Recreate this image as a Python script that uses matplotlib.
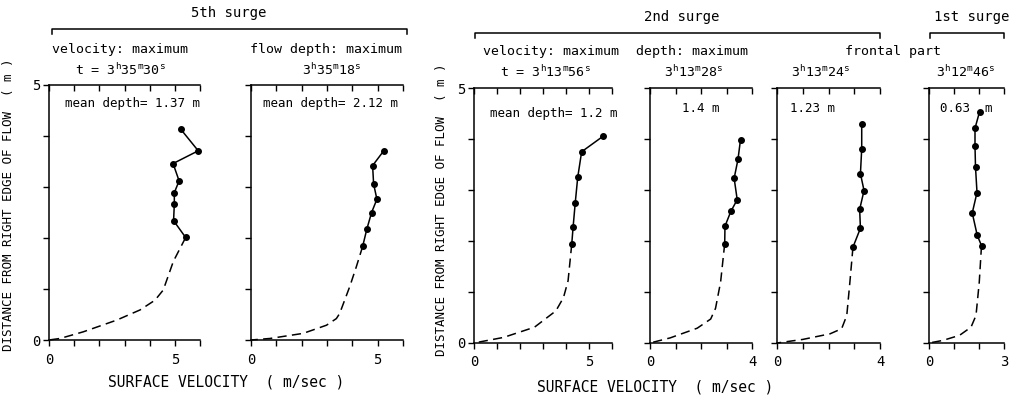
import matplotlib
matplotlib.use("Agg")
import matplotlib.pyplot as plt
from matplotlib.lines import Line2D

plt.rcParams['font.family'] = ['DejaVu Sans Mono', 'DejaVu Sans']
plt.rcParams['mathtext.fontset'] = 'custom'
plt.rcParams['mathtext.rm'] = 'DejaVu Sans Mono'
plt.rcParams['mathtext.it'] = 'DejaVu Sans Mono'

W, H = 1013, 400

# measured points (solid) and estimated edge profile (dashed), velocity m/sec vs distance m
p1_solid_v = [5.24, 5.93, 4.93, 5.17, 4.98, 4.98, 4.95, 5.43]
p1_solid_d = [4.13, 3.71, 3.46, 3.12, 2.89, 2.67, 2.34, 2.01]
p1_dash_v = [5.43, 4.94, 4.54, 4.21, 3.62, 2.69, 1.36, 0.44, 0.0]
p1_dash_d = [2.01, 1.54, 0.98, 0.78, 0.59, 0.39, 0.16, 0.03, 0.0]

p2_solid_v = [5.24, 4.80, 4.84, 4.97, 4.76, 4.57, 4.41]
p2_solid_d = [3.71, 3.42, 3.06, 2.76, 2.50, 2.17, 1.84]
p2_dash_v = [4.41, 4.16, 3.90, 3.50, 3.37, 2.98, 2.06, 0.75, 0.0]
p2_dash_d = [1.84, 1.44, 1.05, 0.52, 0.42, 0.29, 0.13, 0.03, 0.0]

p3_solid_v = [5.63, 4.68, 4.51, 4.40, 4.31, 4.25]
p3_solid_d = [4.06, 3.75, 3.25, 2.74, 2.28, 1.94]
p3_dash_v = [4.25, 4.09, 3.89, 3.56, 2.63, 1.29, 0.0]
p3_dash_d = [1.94, 1.22, 0.89, 0.63, 0.31, 0.11, 0.0]

p4_solid_v = [3.55, 3.45, 3.30, 3.42, 3.17, 2.94, 2.93]
p4_solid_d = [3.99, 3.60, 3.23, 2.81, 2.58, 2.29, 1.95]
p4_dash_v = [2.93, 2.77, 2.57, 2.38, 1.85, 0.79, 0.0]
p4_dash_d = [1.95, 1.20, 0.68, 0.47, 0.29, 0.10, 0.0]

p5_solid_v = [3.29, 3.29, 3.24, 3.38, 3.21, 3.24, 2.95]
p5_solid_d = [4.30, 3.81, 3.32, 2.99, 2.62, 2.25, 1.88]
p5_dash_v = [2.95, 2.83, 2.71, 2.51, 2.06, 1.00, 0.0]
p5_dash_d = [1.88, 1.19, 0.54, 0.28, 0.18, 0.07, 0.0]

p6_solid_v = [2.02, 1.84, 1.84, 1.86, 1.92, 1.73, 1.93, 2.10]
p6_solid_d = [4.53, 4.21, 3.86, 3.45, 2.95, 2.55, 2.11, 1.91]
p6_dash_v = [2.10, 2.01, 1.88, 1.68, 1.22, 0.55, 0.0]
p6_dash_d = [1.91, 1.19, 0.54, 0.31, 0.15, 0.05, 0.0]

xmax = [6, 6, 6, 4, 4, 3]
xlabel_at = [5, 5, 5, 4, 4, 3]
depth_text = ["mean depth= 1.37 m", "mean depth= 2.12 m", "mean depth= 1.2 m",
              "1.4 m", "1.23 m", "0.63  m"]

panels = [
    (p1_solid_v, p1_solid_d, p1_dash_v, p1_dash_d),
    (p2_solid_v, p2_solid_d, p2_dash_v, p2_dash_d),
    (p3_solid_v, p3_solid_d, p3_dash_v, p3_dash_d),
    (p4_solid_v, p4_solid_d, p4_dash_v, p4_dash_d),
    (p5_solid_v, p5_solid_d, p5_dash_v, p5_dash_d),
    (p6_solid_v, p6_solid_d, p6_dash_v, p6_dash_d),
]

# pixel boxes (x0, x1, ytop, ybottom)
boxes = [(49, 200, 85, 340), (251, 403, 85, 340), (474, 612, 88, 343),
         (650, 752, 88, 343), (777, 880, 88, 343), (929, 1004, 88, 343)]
ylabels_on = [True, False, True, False, False, False]
text_pos = [(65, 103), (263, 103), (490, 113), (682, 108), (790, 108), (940, 108)]


def fx(x):
    return x / W


def fy(y):
    return 1 - y / H


fig = plt.figure(figsize=(W / 100, H / 100), dpi=100)

for i, (sv, sd, dv, dd) in enumerate(panels):
    x0, x1, yt, yb = boxes[i]
    ax = fig.add_axes([fx(x0), fy(yb), (x1 - x0) / W, (yb - yt) / H])
    ax.plot(dv, dd, color='black', lw=1.1, dashes=(6, 3.5), clip_on=False)
    ax.plot(sv, sd, color='black', lw=1.1, marker='o', ms=4, clip_on=False)
    ax.set_xlim(0, xmax[i])
    ax.set_ylim(0, 5)
    xt = list(range(xmax[i] + 1))
    ax.set_xticks(xt)
    ax.set_xticklabels([str(t) if t in (0, xlabel_at[i]) else '' for t in xt])
    ax.set_yticks(range(6))
    if ylabels_on[i]:
        ax.set_yticklabels(['0', '', '', '', '', '5'])
    else:
        ax.set_yticklabels([])
    ax.spines['right'].set_visible(False)
    ax.spines['top'].set_visible(False)
    ax.spines['left'].set_linewidth(1.1)
    ax.spines['bottom'].set_linewidth(1.1)
    ax.tick_params(direction='out', length=4, width=1, labelsize=10, pad=5)
    ax.tick_params(axis='y', pad=2)
    sec = ax.secondary_xaxis('top')
    sec.set_xticks(xt)
    sec.set_xticklabels([])
    sec.tick_params(direction='in', length=4, width=1)
    sec.spines['top'].set_linewidth(1.1)
    tx, ty = text_pos[i]
    fig.text(fx(tx), fy(ty), depth_text[i], fontsize=9, va='center', ha='left')

# axis labels
ylab = "DISTANCE FROM RIGHT EDGE OF FLOW  ( m )"
fig.text(fx(9), fy(205), ylab, rotation=90, fontsize=9, ha='center', va='center')
fig.text(fx(441), fy(210), ylab, rotation=90, fontsize=9, ha='center', va='center')
xlab = "SURFACE VELOCITY  ( m/sec )"
fig.text(fx(226), fy(382), xlab, fontsize=10.5, ha='center', va='center')
fig.text(fx(655), fy(387), xlab, fontsize=10.5, ha='center', va='center')

# surge brackets
brackets = [("5th surge", 52, 407, 29, 229), ("2nd surge", 475, 880, 33, 682),
            ("1st surge", 930, 1004, 33, 972)]
for label, bx0, bx1, by, cx in brackets:
    fig.add_artist(Line2D([fx(bx0), fx(bx0), fx(bx1), fx(bx1)],
                          [fy(by + 5), fy(by), fy(by), fy(by + 5)],
                          color='black', lw=1.1, transform=fig.transFigure))
    fig.text(fx(cx), fy(by - 16), label, fontsize=10, ha='center', va='center')

# time headings
fig.text(fx(52), fy(50), "velocity: maximum", fontsize=9.5, va='center')
fig.text(fx(120), fy(70), r"t = 3$^\mathrm{h}$35$^\mathrm{m}$30$^\mathrm{s}$",
         fontsize=9.5, ha='center', va='center')
fig.text(fx(250), fy(50), "flow depth: maximum", fontsize=9.5, va='center')
fig.text(fx(331), fy(70), r"3$^\mathrm{h}$35$^\mathrm{m}$18$^\mathrm{s}$",
         fontsize=9.5, ha='center', va='center')
fig.text(fx(483), fy(52), "velocity: maximum", fontsize=9.5, va='center')
fig.text(fx(545), fy(72), r"t = 3$^\mathrm{h}$13$^\mathrm{m}$56$^\mathrm{s}$",
         fontsize=9.5, ha='center', va='center')
fig.text(fx(636), fy(52), "depth: maximum", fontsize=9.5, va='center')
fig.text(fx(693), fy(72), r"3$^\mathrm{h}$13$^\mathrm{m}$28$^\mathrm{s}$",
         fontsize=9.5, ha='center', va='center')
fig.text(fx(845), fy(52), "frontal part", fontsize=9.5, va='center')
fig.text(fx(820), fy(72), r"3$^\mathrm{h}$13$^\mathrm{m}$24$^\mathrm{s}$",
         fontsize=9.5, ha='center', va='center')
fig.text(fx(965), fy(72), r"3$^\mathrm{h}$12$^\mathrm{m}$46$^\mathrm{s}$",
         fontsize=9.5, ha='center', va='center')

fig.savefig("out.png", dpi=100)
